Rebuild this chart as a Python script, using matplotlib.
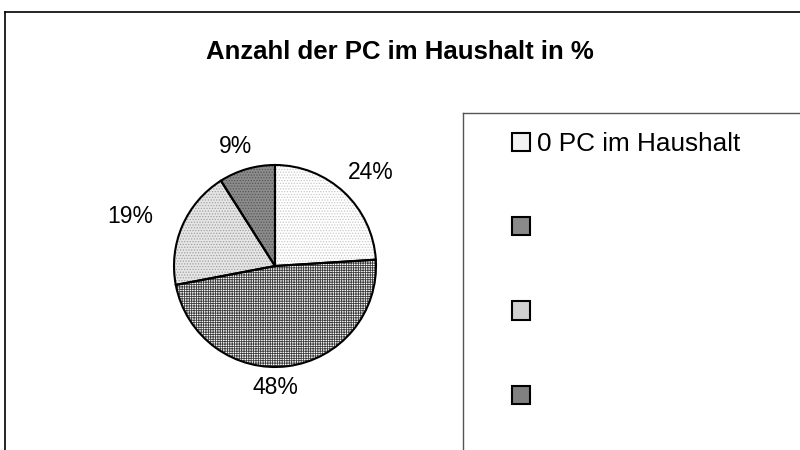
import numpy as np
import matplotlib
matplotlib.use("Agg")
import matplotlib.pyplot as plt
from matplotlib.patches import Rectangle
from matplotlib.lines import Line2D

# Daten
werte = [24, 48, 19, 9]
labels = ["0 PC im Haushalt", "", "", ""]
title = "Anzahl der PC im Haushalt in %"

# Stil pro Segment
faces = ["#ffffff", "#ffffff", "#e6e6e6", "#8c8c8c"]
hatch_cols = ["#c8c8c8", "#3c3c3c", "#a0a0a0", "#555555"]
hatches = ["......", "+++++++", "......", "......"]
legend_faces = ["#f2f2f2", "#8a8a8a", "#d0d0d0", "#808080"]
# Abstand und Winkelversatz der Prozentbeschriftungen
label_dist = [1.33, 1.2, 1.515, 1.25]
label_shift = [-2.4, -7.2, 4.7, 2.2]

plt.rcParams['font.family'] = ['Liberation Sans', 'DejaVu Sans']
plt.rcParams['hatch.linewidth'] = 0.6

W, H = 800, 450
fig = plt.figure(figsize=(8, 4.5), dpi=100)

# Rahmen (Diagrammfläche und Legendenbox)
fig.add_artist(Line2D([5 / W, 1], [1 - 12 / H, 1 - 12 / H], color="black", lw=1.2))
fig.add_artist(Line2D([5 / W, 5 / W], [0, 1 - 12 / H], color="black", lw=1.2))
fig.add_artist(Line2D([463 / W, 1], [1 - 113 / H, 1 - 113 / H], color="#555555", lw=1))
fig.add_artist(Line2D([463 / W, 463 / W], [0, 1 - 113 / H], color="#555555", lw=1))

fig.text(400 / W, 1 - 52 / H, title, ha="center", va="center",
         fontsize=18.5, fontweight="bold")

# Kreisdiagramm: Mitte (275, 266), Radius 101
cx, cy, r = 275, 266, 101
ax = fig.add_axes([(cx - r) / W, 1 - (cy + r) / H, 2 * r / W, 2 * r / H])

wedges, _ = ax.pie(werte, startangle=90, counterclock=False, radius=1,
                   colors=faces, wedgeprops=dict(linewidth=0))
for w, hc, h in zip(wedges, hatch_cols, hatches):
    w.set_hatch(h)
    w.set_edgecolor(hc)

rand, _ = ax.pie(werte, startangle=90, counterclock=False, radius=1,
                 wedgeprops=dict(fill=False, edgecolor="black", linewidth=1.5))

ax.set_xlim(-1, 1)
ax.set_ylim(-1, 1)
ax.set_aspect("equal")
ax.axis("off")

for w, v, d, s in zip(rand, werte, label_dist, label_shift):
    mid = np.deg2rad((w.theta1 + w.theta2) / 2 + s)
    ax.text(d * np.cos(mid), d * np.sin(mid), f"{v}%", ha="center", va="center",
            fontsize=16.5, clip_on=False)

# Legende
handles = [Rectangle((0, 0), 1, 1, facecolor=f, edgecolor="black", linewidth=1.5)
           for f in legend_faces]
fig.legend(handles, labels, loc="upper left",
           bbox_to_anchor=(512 / W, 1 - 132 / H), frameon=False, fontsize=18.8,
           handlelength=0.69, handleheight=0.69, handletextpad=0.25,
           labelspacing=2.31, borderpad=0, borderaxespad=0)

fig.savefig("out.png", dpi=100)
